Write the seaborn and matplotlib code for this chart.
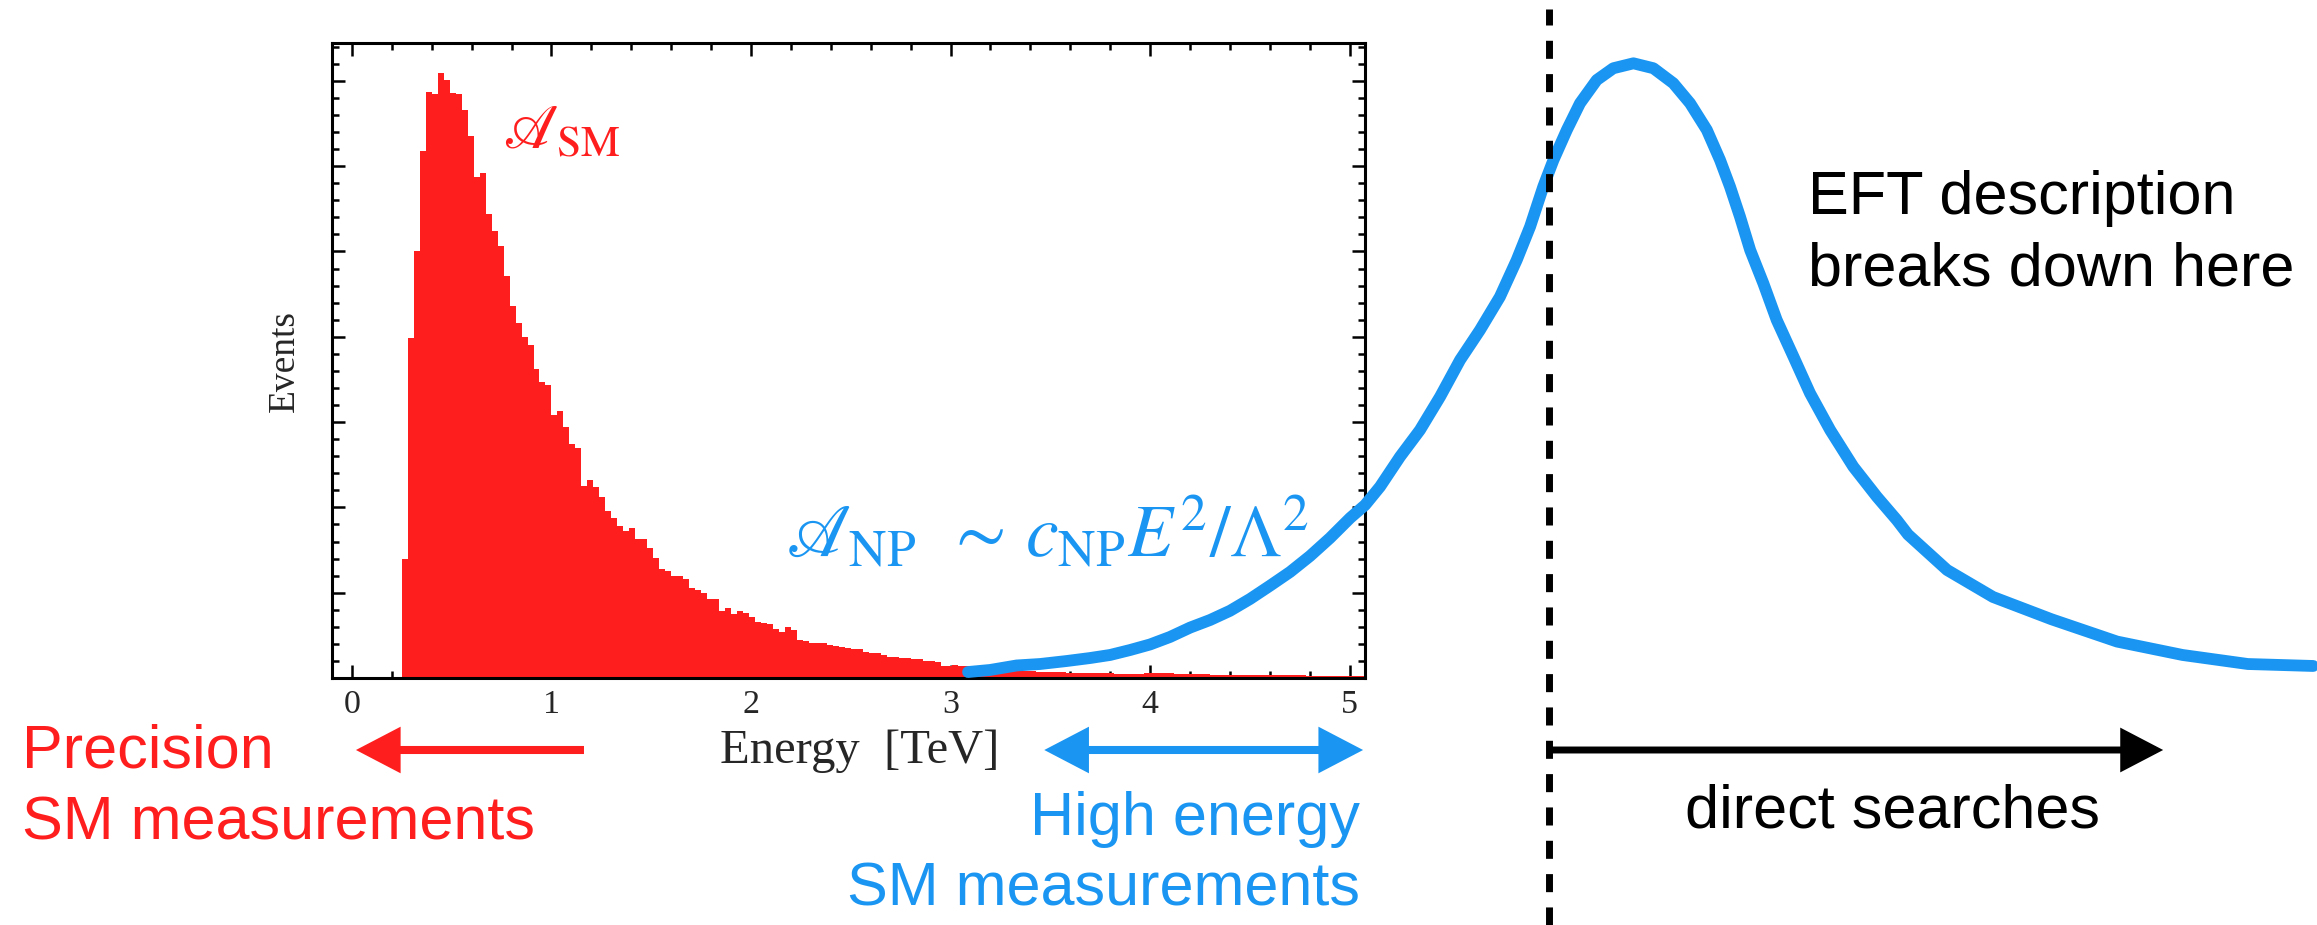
import numpy as np
import pandas as pd
import matplotlib
matplotlib.use("Agg")
import matplotlib.pyplot as plt
import seaborn as sns
from matplotlib.ticker import MultipleLocator, NullFormatter

# ---------------- data ----------------
bin_start = 0.25          # TeV, left edge of first histogram bin
bin_width = 0.03          # TeV
sm_counts = [
    1395, 3989, 5005, 6177, 6869, 6845, 7088, 7009, 6860, 6842,
    6658, 6353, 5876, 5915, 5439, 5243, 5063, 4712, 4360, 4157,
    4000, 3903, 3618, 3466, 3434, 3083, 3129, 2946, 2743, 2692,
    2250, 2321, 2235, 2118, 1961, 1872, 1785, 1726, 1754, 1626,
    1626, 1524, 1406, 1274, 1254, 1195, 1195, 1157, 1051, 1031,
    993, 922, 922, 782, 824, 747, 789, 758, 718, 660,
    641, 629, 578, 543, 594, 563, 445, 437, 414, 407,
    414, 383, 375, 360, 352, 343, 336, 308, 297, 289,
    270, 250, 243, 234, 234, 223, 219, 199, 199, 188,
    141, 141, 152, 141, 141, 125, 118, 110, 104, 100,
    95, 90, 86, 82, 80, 77, 74, 72, 70, 68,
    66, 64, 62, 62, 60, 60, 58, 57, 55, 52,
    50, 48, 47, 46, 62, 60, 58, 56, 55, 50,
    47, 44, 43, 42, 42, 41, 40, 40, 39, 38,
    37, 36, 35, 35, 34, 33, 33, 32, 31, 30,
    30, 29, 28, 28, 27, 26, 26, 25, 24, 24, 23,
]
energy_ticks = [0, 1, 2, 3, 4, 5]

# new-physics resonance sketch (energy in TeV, events in the same units)
np_energy = [3.088, 3.198, 3.332, 3.449, 3.582, 3.699, 3.800, 3.900, 4.000,
             4.100, 4.201, 4.301, 4.401, 4.501, 4.602, 4.702, 4.802, 4.902,
             5.003, 5.078, 5.153, 5.253, 5.353, 5.454, 5.554, 5.654, 5.754,
             5.838, 5.905, 5.971, 6.022, 6.089, 6.155, 6.239, 6.322, 6.423,
             6.523, 6.623, 6.707, 6.791, 6.857, 6.907, 6.957, 7.008, 7.074,
             7.141, 7.225, 7.308, 7.409, 7.525, 7.643, 7.743, 7.799, 7.995,
             8.225, 8.519, 8.847, 9.175, 9.502, 9.830]
np_events = [70, 94, 147, 164, 199, 234, 270, 328, 393,
             481, 591, 680, 788, 926, 1083, 1243, 1430, 1641,
             1876, 2028, 2243, 2594, 2907, 3298, 3728, 4080, 4470,
             4900, 5291, 5760, 6072, 6424, 6737, 7010, 7148, 7206,
             7148, 6972, 6737, 6424, 6072, 5760, 5408, 5017, 4627,
             4197, 3767, 3338, 2907, 2477, 2125, 1852, 1682, 1266,
             950, 688, 427, 270, 164, 141]
eft_breakdown = 6.0       # TeV

RED = "#FF1E1E"
BLUE = "#1A96F2"

# ---------------- figure ----------------
sns.set_style("white")
plt.rcParams["mathtext.fontset"] = "stix"
plt.rcParams["font.family"] = ["Liberation Sans", "DejaVu Sans"]

W, H = 2317, 925
fig = plt.figure(figsize=(W / 100, H / 100), dpi=100, facecolor="white")

def fx(px):
    return px / W

def fy(py):
    return 1 - py / H

ax = fig.add_axes([fx(332), fy(678), fx(1364.5) - fx(332), fy(43) - fy(678)])

edges = [bin_start + bin_width * i for i in range(len(sm_counts) + 1)]
centers = [0.5 * (edges[i] + edges[i + 1]) for i in range(len(sm_counts))]
df = pd.DataFrame({"energy": centers, "events": sm_counts})
sns.histplot(data=df, x="energy", weights="events", bins=edges, ax=ax,
             element="step", fill=True, color=RED, alpha=1.0, linewidth=0)

ax.set_xlim(-0.10, 5.075)
ax.set_ylim(0, 7444)
ax.xaxis.set_major_locator(MultipleLocator(1))
ax.xaxis.set_minor_locator(MultipleLocator(0.2))
ax.yaxis.set_major_locator(MultipleLocator(1000))
ax.yaxis.set_minor_locator(MultipleLocator(200))
ax.set_xticks(energy_ticks)
ax.set_xticklabels([str(t) for t in energy_ticks])
ax.yaxis.set_major_formatter(NullFormatter())
ax.tick_params(which="both", direction="in", top=True, right=True,
               left=True, bottom=True, width=1.8, color="black")
ax.tick_params(which="major", length=9.4, pad=8, labelsize=24.5)
ax.tick_params(which="minor", length=5.2)
for lab in ax.get_xticklabels():
    lab.set_family("Liberation Serif")
for sp in ax.spines.values():
    sp.set_linewidth(2.2)
    sp.set_color("black")

ax.set_xlabel("Energy  [TeV]", fontsize=35, family="Liberation Serif", va="center")
ax.xaxis.set_label_coords(0.511, -0.115)
ax.set_ylabel("Events", fontsize=27, family="Liberation Serif", va="center")
ax.yaxis.set_label_coords(-0.0455, 0.5)

ax.text(fx(503), fy(148), r"$\mathscr{A}_{\rm SM}$", transform=fig.transFigure,
        color=RED, fontsize=45, ha="left", va="baseline")

# ---------------- overlay sharing the same data scale ----------------
ov = fig.add_axes([0, 0, 1, 1], zorder=5)
ov.set_axis_off()
ov.patch.set_alpha(0)
inv = ax.transData.inverted()
(x0, y0) = inv.transform((0, 0))
(x1, y1) = inv.transform((fig.bbox.width, fig.bbox.height))
ov.set_xlim(x0, x1)
ov.set_ylim(y0, y1)

sns.lineplot(x=np_energy, y=np_events, ax=ov, color=BLUE, linewidth=8.5,
             sort=False, estimator=None, solid_capstyle="round",
             solid_joinstyle="round")

ov.axvline(eft_breakdown, ymin=0, ymax=0.99, color="black", lw=5,
           dashes=(2.6, 2.2))

y_arrow = inv.transform((0, fig.bbox.height - 750))[1]
def arrow(x_from, x_to, color, lw, style):
    ov.annotate("", xy=(x_to, y_arrow), xytext=(x_from, y_arrow),
                arrowprops=dict(arrowstyle=style, color=color, lw=lw,
                                shrinkA=0, shrinkB=0, mutation_scale=10,
                                capstyle="butt", joinstyle="miter"))

arrow(1.163, 0.02, RED, 5.8, "-|>,head_length=2.3,head_width=1.2")
arrow(3.47, 5.068, BLUE, 5.8, "<|-|>,head_length=2.3,head_width=1.2")
arrow(eft_breakdown, 9.078, "black", 5.0, "-|>,head_length=2.3,head_width=1.2")

# ---------------- annotations ----------------
fs = 44
fig.text(fx(786), fy(557), r"$\mathscr{A}_{\rm NP}\ \,\sim\,c_{\rm NP}E^2/\Lambda^2$",
         color=BLUE, fontsize=53, ha="left", va="baseline")
fig.text(fx(22), fy(767), "Precision", color=RED, fontsize=fs, ha="left", va="baseline")
fig.text(fx(22), fy(839), "SM measurements", color=RED, fontsize=fs, ha="left", va="baseline")
fig.text(fx(1360), fy(835), "High energy", color=BLUE, fontsize=fs, ha="right", va="baseline")
fig.text(fx(1360), fy(906), "SM measurements", color=BLUE, fontsize=fs, ha="right", va="baseline")
fig.text(fx(1685), fy(827), "direct searches", color="black", fontsize=fs, ha="left", va="baseline")
fig.text(fx(1808), fy(214), "EFT description", color="black", fontsize=fs, ha="left", va="baseline")
fig.text(fx(1808), fy(285), "breaks down here", color="black", fontsize=fs, ha="left", va="baseline")

fig.savefig("out.png", dpi=100, facecolor="white")
